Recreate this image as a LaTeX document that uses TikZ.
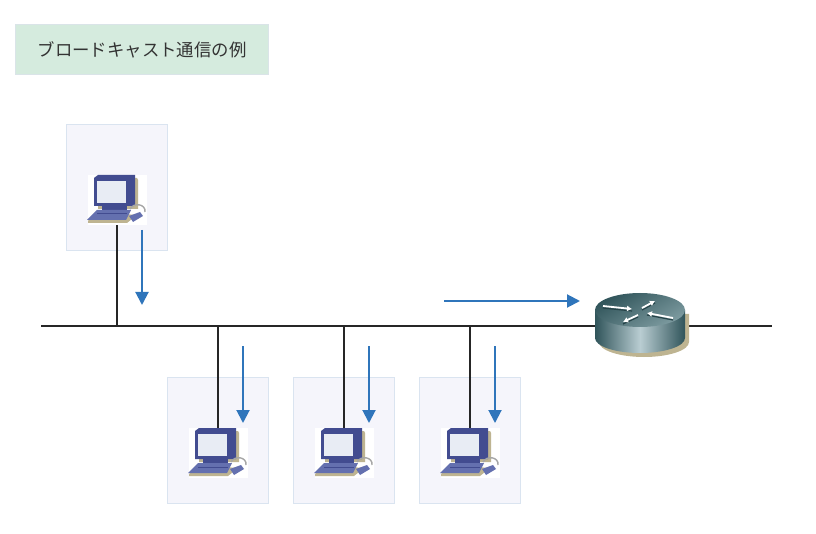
\documentclass[tikz,border=0pt]{standalone}
\usepackage{fontspec}
\setmainfont{Noto Sans CJK JP}
\usetikzlibrary{arrows.meta}

% Define colors
\definecolor{titlegreen}{RGB}{213,235,222}
\definecolor{titleedge}{RGB}{218,228,232}
\definecolor{hostfill}{RGB}{245,245,251}
\definecolor{hostedge}{RGB}{218,228,240}
\definecolor{flowblue}{RGB}{47,117,187}
\definecolor{pcblue}{RGB}{66,76,144}
\definecolor{pclight}{RGB}{100,112,175}
\definecolor{pcscreen}{RGB}{232,236,244}
\definecolor{tanshadow}{RGB}{190,180,145}
\definecolor{rtdark}{RGB}{48,84,90}
\definecolor{rtmid}{RGB}{125,155,160}
\definecolor{rtlight}{RGB}{185,205,210}

\tikzset{
    titlebox/.style={draw=titleedge, fill=titlegreen, minimum width=253pt, minimum height=50pt, inner sep=0pt, font=\fontsize{17.4pt}{20pt}\selectfont, text=black!80},
    hostbox/.style={draw=hostedge, fill=hostfill, line width=1pt, minimum width=101pt, minimum height=126pt, inner sep=0pt},
    pcnode/.style={fill=white, minimum width=59pt, minimum height=50pt, inner sep=0pt},
    rtnode/.style={minimum width=92pt, minimum height=64pt, inner sep=0pt},
    wire/.style={draw=black!85, line width=1.2pt},
    flow/.style={draw=flowblue, line width=2pt, -{Triangle[length=13pt,width=13pt]}},
    rtarrow/.style={draw=white, line width=1.8pt, -{Latex[length=5pt,width=6pt]}},
    rtshade/.style={draw=rtdark!80!black, line width=1.2pt},
    % computer, origin at the centre of its node
    pics/pcicon/.style={code={
        % Shadow
        \fill[tanshadow] (-19,-22) -- (20,-22) -- (21,-20) -- (21,9) -- (-19,9) -- cycle;
        \fill[tanshadow] (-29,21) -- (-29,23) -- (10,23) -- (20,15) -- (-20,12) -- cycle;
        % Monitor
        \fill[pcblue] (-23,-22) -- (-19,-25) -- (18,-25) -- (18,6) -- (-23,6) -- cycle;
        \fill[pcscreen] (-20,-19) rectangle (9,3);
        \fill[pcblue] (-15,6) rectangle (10,11);
        % Keyboard
        \fill[pclight] (-20,10) -- (14,10) -- (9,20) -- (-30,20) -- cycle;
        \draw[pcblue, line width=1pt] (-20,14) -- (10,14);
        % Mouse
        \draw[black!35, line width=1.4pt] (13,9) .. controls (17,2) and (29,4) .. (28,12);
        \fill[pclight] (12,16) -- (23,12) -- (26,16) -- (16,22) -- cycle;
    }},
    % router, origin at the centre of its top face
    pics/rticon/.style={code={
        \fill[tanshadow] (-41,4) -- (-41,32) arc[start angle=180,end angle=0,x radius=45,y radius=15] -- (49,4) -- cycle;
        \shade[left color=rtdark, right color=rtdark, middle color=rtlight] (-45,0) -- (-45,28) arc[start angle=180,end angle=0,x radius=45,y radius=15] -- (45,0) -- cycle;
        \shade[left color=rtdark, right color=rtmid, shading angle=30] (0,0) ellipse[x radius=45, y radius=17];
        \draw[rtshade] (-37,-2) -- (-8,1);
        \draw[rtshade] (2,0) -- (15,-7);
        \draw[rtshade] (33,10) -- (7,5);
        \draw[rtshade] (-2,7) -- (-17,14);
        \draw[rtarrow] (-37,-4) -- (-8,-1);
        \draw[rtarrow] (2,-2) -- (15,-9);
        \draw[rtarrow] (33,8) -- (7,3);
        \draw[rtarrow] (-2,5) -- (-17,12);
    }}
}

\begin{document}
\begin{tikzpicture}[x=1pt, y=-1pt]

    \useasboundingbox (0,0) rectangle (816,534);

    \node[titlebox] (title) at (142,49.5) {ブロードキャスト通信の例};

    % Host boxes
    \node[hostbox] (box1) at (117,187.5) {};
    \node[hostbox] (box2) at (218,440) {};
    \node[hostbox] (box3) at (344,440) {};
    \node[hostbox] (box4) at (470,440) {};

    \node[pcnode] (pc1) at (117,200) {};
    \node[pcnode] (pc2) at (218,453) {};
    \node[pcnode] (pc3) at (344,453) {};
    \node[pcnode] (pc4) at (470,453) {};

    \node[rtnode] (router) at (641,326) {};

    % Bus
    \coordinate (busleft) at (41,326);
    \coordinate (busright) at (772,326);
    \coordinate (tap1) at (117,326);
    \coordinate (tap2) at (218,326);
    \coordinate (tap3) at (344,326);
    \coordinate (tap4) at (470,326);

    \draw[wire] (busleft) -- (router);
    \draw[wire] (router) -- (busright);
    \draw[wire] (pc1.south) -- (tap1);
    \draw[wire] (tap2) -- (pc2.north);
    \draw[wire] (tap3) -- (pc3.north);
    \draw[wire] (tap4) -- (pc4.north);

    \pic at (pc1) {pcicon};
    \pic at (pc2) {pcicon};
    \pic at (pc3) {pcicon};
    \pic at (pc4) {pcicon};
    \pic at (640,310) {rticon};

    %-------------
    % Flow arrows
    \coordinate (flow1a) at (142,230);
    \coordinate (flow1b) at (142,305);
    \coordinate (flow2a) at (243,346);
    \coordinate (flow2b) at (243,423);
    \coordinate (flow3a) at (369,346);
    \coordinate (flow3b) at (369,423);
    \coordinate (flow4a) at (495,346);
    \coordinate (flow4b) at (495,423);
    \coordinate (flow5a) at (444,301);
    \coordinate (flow5b) at (580,301);

    \draw[flow] (flow1a) -- (flow1b);
    \draw[flow] (flow2a) -- (flow2b);
    \draw[flow] (flow3a) -- (flow3b);
    \draw[flow] (flow4a) -- (flow4b);
    \draw[flow] (flow5a) -- (flow5b);

\end{tikzpicture}
\end{document}
